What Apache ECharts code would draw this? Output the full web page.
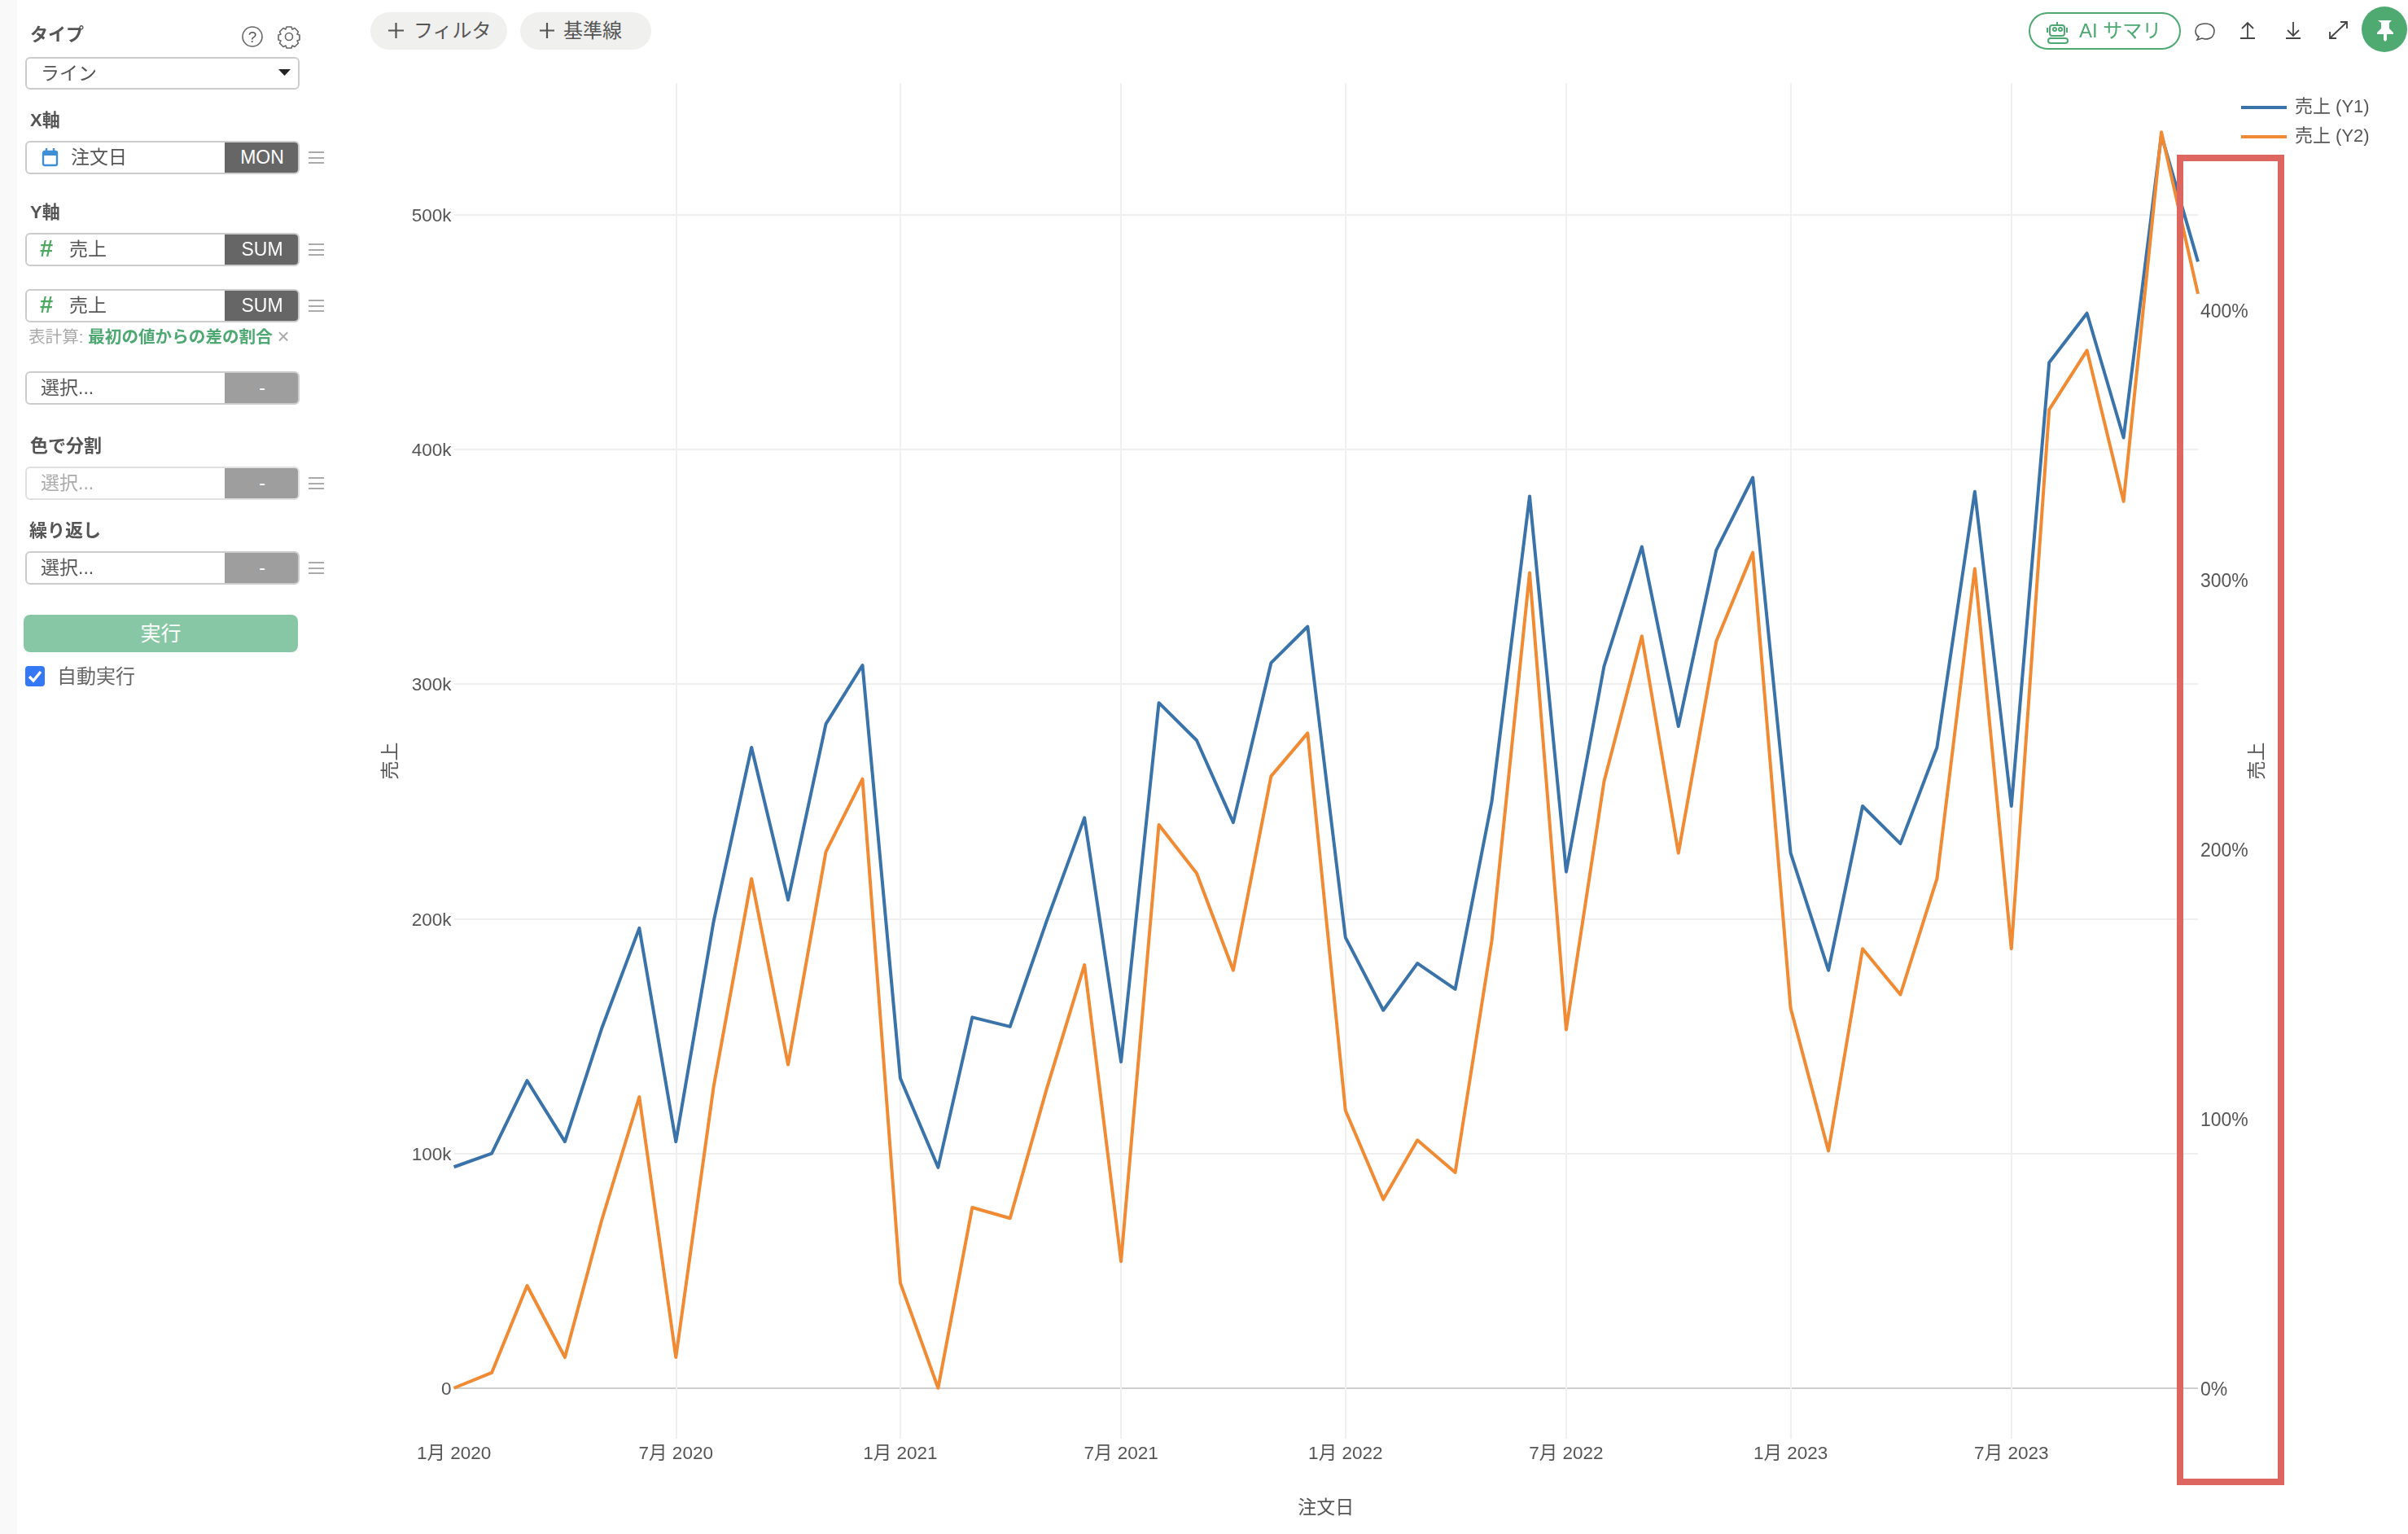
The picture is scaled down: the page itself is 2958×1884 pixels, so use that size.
<!DOCTYPE html>
<html><head><meta charset="utf-8">
<script src="https://cdn.jsdelivr.net/npm/echarts@6/dist/echarts.min.js"></script>
<style>
html,body{margin:0;padding:0;background:#fff;width:2958px;height:1884px;overflow:hidden;font-family:"Liberation Sans","Noto Sans CJK JP",sans-serif;color:#555}
#chart{position:absolute;left:0;top:0;width:2958px;height:1884px}
.a{position:absolute;white-space:nowrap}
.lab{font-weight:bold;font-size:22px;color:#555;line-height:26px}
.row{position:absolute;left:31px;width:337px;height:41px;box-sizing:border-box;border:2px solid #ccc;border-radius:6px;background:#fff;overflow:hidden}
.row .t{position:absolute;left:17px;top:0;line-height:37px;font-size:23px;color:#555}
.row .b{position:absolute;right:-2px;top:-2px;bottom:-2px;width:92px;background:#666;color:#fff;font-size:23px;line-height:41px;text-align:center}
.row .b.off{background:#9e9e9e}
.ham{position:absolute;left:379px;width:19px;height:15px;border-top:2px solid #aaa;border-bottom:2px solid #aaa;box-sizing:border-box}
.ham:after{content:"";position:absolute;left:0;right:0;top:4.5px;height:2px;background:#aaa}
.pill{position:absolute;top:15px;height:46px;border-radius:23px;background:#f0f0ef;line-height:46px;font-size:24px;color:#555;box-sizing:border-box;white-space:nowrap}
</style></head><body>
<div id="chart"></div>
<div class="a" style="left:0;top:0;width:21px;height:1884px;background:#f9f9f9"></div>
<div id="side"></div>
<div class="pill" style="left:455px;width:168px;padding-left:53px">フィルタ</div>
<div class="pill" style="left:639px;width:161px;padding-left:53px">基準線</div>
<div class="a" style="left:2492px;top:15px;width:187px;height:46px;box-sizing:border-box;border:2px solid #4da871;border-radius:23px;color:#4da871;font-size:24px;line-height:42px;padding-left:60px">AI サマリ</div>
<svg class="a" style="left:0;top:0" width="2958" height="100" fill="none">
  <path d="M477 37.500h19M486.500 28v19M663 37.500h18M672 28v19" stroke="#555" stroke-width="2.200"/>
  <g stroke="#4da871" stroke-width="2" transform="translate(2516,24)"><rect x="2" y="7" width="18" height="13" rx="3"/><circle cx="8" cy="12" r="2"/><circle cx="15" cy="12" r="2"/><path d="M11 3v4M-1 10v6M23 10v6"/><rect x="0" y="23" width="24" height="6" rx="3"/></g>
  <path d="M2709 29c-9 0-12 5-12 9 0 3 2 6 4 7l-2 4 6-2c1 0 3 1 4 1 8 0 11-5 11-10 0-5-4-9-11-9z" stroke="#555" stroke-width="1.600"/>
  <path d="M2761 46V28M2754 35l7-7 7 7M2752 47h18" stroke="#444" stroke-width="1.800"/>
  <path d="M2817 44V27M2810 37l7 7 7-7M2808 47h18" stroke="#444" stroke-width="1.800"/>
  <path d="M2862 47l21-20M2875 27h8v8M2862 39v8h8" stroke="#444" stroke-width="1.800"/>
  <circle cx="2929" cy="36" r="28" fill="#4faa72"/>
  <path d="M2921 25h17l-3 3v7l5 5v2h-8v7l-2 2-2-2v-7h-8v-2l5-5v-7z" fill="#fff"/>
  <circle cx="310" cy="45" r="12" stroke="#666" stroke-width="1.600"/>
  <text x="310" y="52" text-anchor="middle" font-size="19" fill="#555" font-family="Liberation Sans">?</text>
  <circle cx="355" cy="45" r="4.500" stroke="#666" stroke-width="1.600"/>
  <path d="M352 33h6l1 3 3-1.500 4.500 4.500-1.500 3 3 1v6l-3 1 1.500 3-4.500 4.500-3-1.500-1 3h-6l-1-3-3 1.500-4.500-4.500 1.500-3-3-1v-6l3-1-1.500-3 4.500-4.500 3 1.500z" stroke="#666" stroke-width="1.600" stroke-linejoin="round"/>
  <path d="M342 85h15l-7.500 8z" fill="#222"/>
</svg>
<div class="a" style="left:2674px;top:190px;width:132px;height:1634px;box-sizing:border-box;border:8px solid #dd6660"></div>
<script>
const months = [
 '2020-01-01','2020-02-01','2020-03-01','2020-04-01','2020-05-01','2020-06-01','2020-07-01','2020-08-01','2020-09-01','2020-10-01','2020-11-01','2020-12-01',
 '2021-01-01','2021-02-01','2021-03-01','2021-04-01','2021-05-01','2021-06-01','2021-07-01','2021-08-01','2021-09-01','2021-10-01','2021-11-01','2021-12-01',
 '2022-01-01','2022-02-01','2022-03-01','2022-04-01','2022-05-01','2022-06-01','2022-07-01','2022-08-01','2022-09-01','2022-10-01','2022-11-01','2022-12-01',
 '2023-01-01','2023-02-01','2023-03-01','2023-04-01','2023-05-01','2023-06-01','2023-07-01','2023-08-01','2023-09-01','2023-10-01','2023-11-01','2023-12-01'];
const salesY1 = [94200,100000,131000,105000,153000,196000,105000,199000,273000,208000,283000,308000,
 132000,94000,158000,154000,199000,243000,139000,292000,276000,241000,309000,324500,
 192000,161000,181000,170000,250000,380000,220000,307500,358500,282000,357000,388000,
 228000,178000,248000,232000,273000,382000,248000,437000,458000,405000,534000,480000];
const salesY2 = [0,5.7,38,11.4,62,108,11.4,112,189,120,199,226,
 39,0,67,63,111,157,47,209,191,155,227,243,
 103,70,92,80,166,302.5,133,225,279,198.5,277,310,
 141,88,163,146,189,304,163,363,385,329,466,406];
const xTicks = ['2020-01-01','2020-07-01','2021-01-01','2021-07-01','2022-01-01','2022-07-01','2023-01-01','2023-07-01'];
const y1Ticks = [0,100000,200000,300000,400000,500000];
const y2Ticks = [0,100,200,300,400];
const ts = d => Date.parse(d);

// sidebar
const side = document.getElementById('side');
function lab(t,x,yc){side.insertAdjacentHTML('beforeend',`<div class="a lab" style="left:${x}px;top:${yc-13}px">${t}</div>`)}
function row(top,t,b,opts={}){
  const ic = opts.icon||'';
  side.insertAdjacentHTML('beforeend',`<div class="row" style="top:${top}px;${opts.light?'border-color:#e0e0e0':''}"><span class="t" style="${opts.tl?'left:'+opts.tl+'px;':''}${opts.light?'color:#aaa':''}">${t}</span>${ic}<div class="b ${b==='-'?'off':''}">${b}</div></div>`+(opts.noHam?'':`<div class="ham" style="top:${top+13}px"></div>`));
}
const hash='<span style="position:absolute;left:16px;top:-1px;line-height:37px;font-size:29px;font-weight:bold;color:#4fa862">#</span>';
const cal='<svg style="position:absolute;left:18px;top:7px" width="22" height="24" fill="none" stroke="#3f8fd6" stroke-width="2.400"><rect x="2" y="4" width="17" height="17" rx="2"/><path d="M2 7h17" stroke-width="4"/><path d="M6 0v4M15 0v4"/></svg>';
lab('タイプ',37,43);
side.insertAdjacentHTML('beforeend','<div class="row" style="top:70px;height:40px"><span class="t" style="line-height:36px">ライン</span></div>');
lab('X軸',37,148); row(173,'注文日','MON',{icon:cal,tl:54});
lab('Y軸',37,260.5); row(286,'売上','SUM',{icon:hash,tl:52}); row(355,'売上','SUM',{icon:hash,tl:52});
side.insertAdjacentHTML('beforeend','<div class="a" style="left:35px;top:401px;font-size:20.6px;line-height:24px;color:#aaa">表計算: <span style="color:#4da871;font-weight:bold">最初の値からの差の割合</span> <span style="font-size:26px;vertical-align:-1px">×</span></div>');
row(456,'選択...','-',{noHam:true});
lab('色で分割',37,547.5); row(573,'選択...','-',{light:true});
lab('繰り返し',36,651.5); row(677,'選択...','-');
side.insertAdjacentHTML('beforeend',`<div class="a" style="left:29px;top:755px;width:337px;height:46px;border-radius:8px;background:#88c7a5;color:#fff;font-size:25px;line-height:46px;text-align:center">実行</div>
<div class="a" style="left:31px;top:818px;width:24px;height:25px;border-radius:4px;background:#3478f6"><svg width="24" height="25" fill="none" stroke="#fff" stroke-width="3.400"><path d="M5 13l5 5 9-11"/></svg></div>
<div class="a" style="left:70px;top:817px;font-size:24px;line-height:28px;color:#666">自動実行</div>`);

const FONT='"Liberation Sans","Noto Sans CJK JP",sans-serif';
const chart = echarts.init(document.getElementById('chart'),null,{renderer:'canvas',width:2958,height:1884});
chart.setOption({
  animation:false,
  backgroundColor:'#fff',
  textStyle:{fontFamily:FONT},
  grid:{left:557.6,right:258,top:102,bottom:117,containLabel:false},
  legend:{orient:'vertical',left:2753,top:120,padding:0,itemWidth:56,itemHeight:4,itemGap:12,
    icon:'rect',
    textStyle:{fontSize:22,color:'#555',fontFamily:FONT,lineHeight:24,padding:[0,0,0,5]},
    data:['売上 (Y1)','売上 (Y2)']},
  xAxis:{type:'value',min:ts(months[0]),max:ts(months[months.length-1]),
    name:'注文日',nameLocation:'middle',nameGap:74,nameMoveOverlap:false,nameTextStyle:{fontSize:23,color:'#555'},
    axisLine:{show:false,onZero:false},
    axisTick:{show:false,customValues:xTicks.map(ts)},
    axisLabel:{customValues:xTicks.map(ts),fontSize:22.5,color:'#555',margin:8,
      formatter:v=>{const d=new Date(v);return (d.getUTCMonth()+1)+'月 '+d.getUTCFullYear();}},
    splitLine:{show:true,showMinLine:false,lineStyle:{color:'#f0f0f0',width:2}}},
  yAxis:[
    {type:'value',min:-21600,max:556100,position:'left',
     name:'売上',nameLocation:'middle',nameGap:65,nameRotate:90,nameMoveOverlap:false,nameTextStyle:{fontSize:23,color:'#555'},
     axisLine:{show:false},axisTick:{show:false,customValues:y1Ticks},
     axisLabel:{customValues:y1Ticks,margin:3,formatter:v=>'{a|'+(v===0?'0':(v/1000)+'k')+'}',
       rich:{a:{fontSize:22.5,color:'#555',fontFamily:FONT,padding:[4,0,0,0]}}},
     splitLine:{show:true,lineStyle:{color:['#cfcfcf','#efefef','#efefef','#efefef','#efefef','#efefef'],width:2}}},
    {type:'value',min:-18.8,max:484.2,position:'right',
     name:'売上',nameLocation:'middle',nameGap:62,nameRotate:90,nameMoveOverlap:false,nameTextStyle:{fontSize:23,color:'#555'},
     axisLine:{show:false},axisTick:{show:false,customValues:y2Ticks},
     axisLabel:{customValues:y2Ticks,margin:3,formatter:v=>'{a|'+v+'%}',
       rich:{a:{fontSize:23,color:'#555',fontFamily:FONT,padding:[5,0,0,0]}}},
     splitLine:{show:false}}
  ],
  series:[
    {name:'売上 (Y1)',type:'line',yAxisIndex:0,symbol:'none',smooth:false,lineStyle:{color:'#3a73aa',width:4,join:'round'},itemStyle:{color:'#3a73aa'},data:months.map((m,i)=>[ts(m),salesY1[i]])},
    {name:'売上 (Y2)',type:'line',yAxisIndex:1,symbol:'none',smooth:false,lineStyle:{color:'#f08a33',width:4,join:'round'},itemStyle:{color:'#f08a33'},data:months.map((m,i)=>[ts(m),salesY2[i]])}
  ]
});
</script>
</body></html>
